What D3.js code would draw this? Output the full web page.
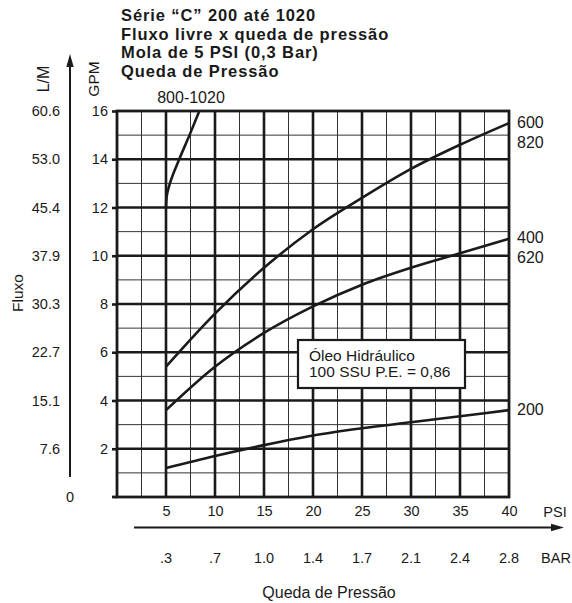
<!DOCTYPE html>
<html><head><meta charset="utf-8">
<script src="https://cdn.jsdelivr.net/npm/d3@7"></script>
<style>
body{margin:0;background:#fff;}
svg{display:block;font-family:"Liberation Sans",Arial,Helvetica,sans-serif;}
</style></head>
<body><svg id="c" width="572" height="603"></svg>
<script>
// ---- data ----
const titleLines = ["Série “C” 200 até 1020","Fluxo livre x queda de pressão","Mola de 5 PSI (0,3 Bar)","Queda de Pressão"];
const gpmTicks = [2,4,6,8,10,12,14,16];
const lmTicks = ["7.6","15.1","22.7","30.3","37.9","45.4","53.0","60.6"];
const psiTicks = [5,10,15,20,25,30,35,40];
const barTicks = [".3",".7","1.0","1.4","1.7","2.1","2.4","2.8"];
// curves: PSI vs GPM
const psi600 = [5,10,15,20,25,30,35,40];
const gpm600 = [5.4,7.6,9.5,11.1,12.4,13.6,14.6,15.5];
const psi400 = [5,10,15,20,25,30,35,40];
const gpm400 = [3.6,5.4,6.8,7.9,8.8,9.5,10.1,10.7];
const psi200 = [5,10,15,20,25,30,35,40];
const gpm200 = [1.2,1.7,2.15,2.55,2.85,3.1,3.35,3.6];
const psi800 = [5,5.07,5.4,6.35,7.4,8.4];
const gpm800 = [12,12.45,13,14,15,16];
const curveLabels = [
  {lines:["600","820"], gpm:15.5},
  {lines:["400","620"], gpm:10.7},
  {lines:["200"], gpm:3.6}
];

const svg = d3.select("#c");
const x = d3.scaleLinear().domain([0,40]).range([117,509]);
const y = d3.scaleLinear().domain([0,16]).range([497,111]);
const ink = "#1a1a1a";

// title
svg.append("g").selectAll("text").data(titleLines).join("text")
  .attr("x",121).attr("y",(d,i)=>21+i*18.5)
  .attr("font-size",16.5).attr("font-weight","bold").attr("letter-spacing",0.9).attr("fill",ink)
  .text(d=>d);

// grid - thin
const g = svg.append("g");
const thinX = d3.range(2.5,40,5), thickX = d3.range(5,40,5);
const thinY = d3.range(1,16,2), thickY = d3.range(2,16,2);
g.selectAll(".tx").data(thinX).join("line")
  .attr("x1",d=>x(d)).attr("x2",d=>x(d)).attr("y1",y(16)).attr("y2",y(0))
  .attr("stroke","#333").attr("stroke-width",1);
g.selectAll(".ty").data(thinY).join("line")
  .attr("x1",x(0)).attr("x2",x(40)).attr("y1",d=>y(d)).attr("y2",d=>y(d))
  .attr("stroke","#333").attr("stroke-width",1);
g.selectAll(".kx").data(thickX).join("line")
  .attr("x1",d=>x(d)).attr("x2",d=>x(d)).attr("y1",y(16)).attr("y2",y(0))
  .attr("stroke",ink).attr("stroke-width",2.6);
g.selectAll(".ky").data(thickY).join("line")
  .attr("x1",x(0)).attr("x2",x(40)).attr("y1",d=>y(d)).attr("y2",d=>y(d))
  .attr("stroke",ink).attr("stroke-width",2.6);
// frame
g.append("rect").attr("x",x(0)).attr("y",y(16)).attr("width",x(40)-x(0)).attr("height",y(0)-y(16))
  .attr("fill","none").attr("stroke",ink).attr("stroke-width",2.8);

// GPM axis (left ticks)
const yAxis = d3.axisLeft(y).tickValues(gpmTicks).tickSize(5).tickPadding(4).tickFormat(d3.format("d"));
const ya = svg.append("g").attr("transform",`translate(${x(0)},0)`).call(yAxis);
ya.select(".domain").remove();
ya.selectAll(".tick line").attr("stroke",ink).attr("stroke-width",2.6);
ya.selectAll(".tick text").attr("font-size",14.5).attr("fill",ink).attr("font-family",null);
// bottom axis extension
svg.append("line").attr("x1",112).attr("x2",x(0)).attr("y1",y(0)).attr("y2",y(0)).attr("stroke",ink).attr("stroke-width",2.8);

// L/M axis
const yLM = d3.scaleLinear().domain([0,60.6]).range([497,111]);
svg.append("line").attr("x1",70).attr("x2",70).attr("y1",64).attr("y2",477).attr("stroke",ink).attr("stroke-width",2);
svg.append("path").attr("d","M70,54 L66.3,67 L73.7,67 Z").attr("fill",ink);
svg.append("g").selectAll("text").data(lmTicks).join("text")
  .attr("x",60).attr("y",d=>yLM(+d)).attr("dy","0.35em").attr("text-anchor","end")
  .attr("font-size",14.5).attr("fill",ink).text(d=>d);
svg.append("text").attr("x",70).attr("y",yLM(0)).attr("dy","0.35em").attr("text-anchor","middle")
  .attr("font-size",14.5).attr("fill",ink).text("0");

// axis titles
svg.append("text").attr("transform","translate(43,79) rotate(-90)").attr("dy","0.35em").attr("text-anchor","middle")
  .attr("font-size",16).attr("fill",ink).text("L/M");
svg.append("text").attr("transform","translate(94,79) rotate(-90)").attr("dy","0.35em").attr("text-anchor","middle")
  .attr("font-size",15.5).attr("fill",ink).text("GPM");
svg.append("text").attr("transform","translate(18,293) rotate(-90)").attr("dy","0.35em").attr("text-anchor","middle")
  .attr("font-size",15.5).attr("fill",ink).text("Fluxo");

// PSI axis labels
const xAxis = d3.axisBottom(x).tickValues(psiTicks).tickSize(0).tickPadding(9);
const xa = svg.append("g").attr("transform",`translate(0,${y(0)})`).call(xAxis);
xa.select(".domain").remove();
xa.selectAll(".tick text").attr("font-size",14.5).attr("fill",ink).attr("font-family",null);
svg.append("text").attr("x",555).attr("y",512).attr("dy","0.35em").attr("text-anchor","middle")
  .attr("font-size",14.5).attr("fill",ink).text("PSI");
// arrow
svg.append("line").attr("x1",134).attr("x2",553).attr("y1",527.5).attr("y2",527.5).attr("stroke",ink).attr("stroke-width",2);
svg.append("path").attr("d","M564,527.5 L551,523.8 L551,531.2 Z").attr("fill",ink);
// BAR labels
svg.append("g").selectAll("text").data(barTicks).join("text")
  .attr("x",(d,i)=>x(psiTicks[i])).attr("y",558).attr("dy","0.35em").attr("text-anchor","middle")
  .attr("font-size",14.5).attr("fill",ink).text(d=>d);
svg.append("text").attr("x",556).attr("y",558).attr("dy","0.35em").attr("text-anchor","middle")
  .attr("font-size",14.5).attr("fill",ink).text("BAR");
svg.append("text").attr("x",329).attr("y",598).attr("text-anchor","middle")
  .attr("font-size",16).attr("fill",ink).text("Queda de Pressão");

// curves
const line = d3.line().x(d=>x(d[0])).y(d=>y(d[1])).curve(d3.curveMonotoneX);
const lineY = d3.line().x(d=>x(d[0])).y(d=>y(d[1])).curve(d3.curveMonotoneY);
const series = [d3.zip(psi600,gpm600), d3.zip(psi400,gpm400), d3.zip(psi200,gpm200)];
svg.append("g").selectAll("path").data(series).join("path")
  .attr("d",line).attr("fill","none").attr("stroke",ink).attr("stroke-width",2.6);
svg.append("path").datum(d3.zip(psi800,gpm800)).attr("d",lineY)
  .attr("fill","none").attr("stroke",ink).attr("stroke-width",2.6);

// curve labels
curveLabels.forEach(c=>{
  c.lines.forEach((t,i)=>{
    svg.append("text").attr("x",517).attr("y",y(c.gpm)+i*20-1).attr("dy","0.35em")
      .attr("font-size",16).attr("fill",ink).text(t);
  });
});
svg.append("text").attr("x",191).attr("y",97).attr("dy","0.35em").attr("text-anchor","middle")
  .attr("font-size",16).attr("fill",ink).text("800-1020");

// legend box
const lg = svg.append("g");
lg.append("rect").attr("x",298).attr("y",340).attr("width",167).attr("height",48)
  .attr("fill","#fff").attr("stroke",ink).attr("stroke-width",2.2);
lg.append("text").attr("x",309).attr("y",361).attr("font-size",15.5).attr("fill",ink).text("Óleo Hidráulico");
lg.append("text").attr("x",309).attr("y",377).attr("font-size",15.5).attr("fill",ink).text("100 SSU P.E. = 0,86");
</script></body></html>
